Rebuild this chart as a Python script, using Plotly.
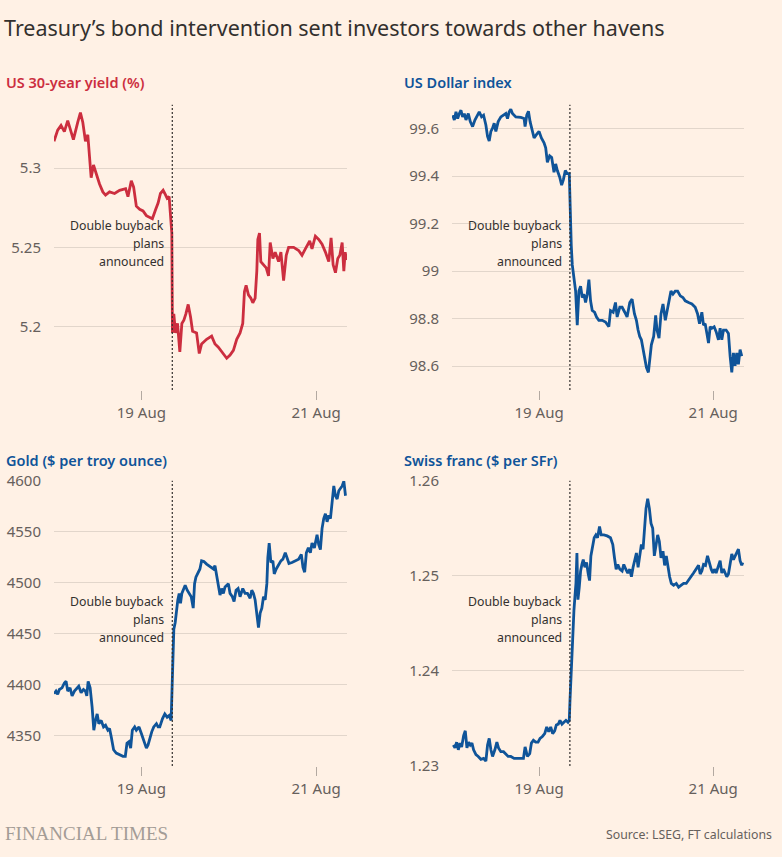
import pandas as pd
import plotly.graph_objects as go

START = pd.Timestamp("2025-08-18 00:00")
EVENT_HOURS = 32.5

# ---------------- data (hours since 18 Aug 00:00, values) ----------------
yield_hours = [0, 0.55, 1.01, 1.93, 2.85, 3.77, 4.69, 5.33, 6.53, 7.26, 7.91, 8.64, 9.29, 9.75,
               10.21, 10.85, 11.59, 12.51, 13.42, 14.16, 15.26, 16.64, 18.02, 19.68, 20.32, 21.24,
               21.88, 22.62, 23.54, 24.46, 25.38, 26.30, 27.03, 27.95, 28.60, 29.24, 29.98, 30.44,
               31.08, 31.63, 32.09, 32.37, 32.46, 32.55, 32.92, 33.38, 33.93, 34.57, 35.13, 35.68,
               36.23, 36.87, 37.52, 38.07, 39.17, 39.91, 40.55, 41.93, 43.31, 44.23, 45.15, 46.07,
               47.45, 48.37, 49.29, 50.20, 51.12, 51.86, 52.32, 52.78, 53.42, 54.07, 54.62, 55.26,
               55.72, 56.00, 56.46, 56.82, 57.56, 58.30, 58.94, 59.40, 60.14, 60.78, 61.70, 62.34,
               63.08, 63.81, 64.46, 65.84, 67.22, 68.14, 69.06, 70.25, 70.89, 71.81, 72.73, 73.65,
               74.57, 75.49, 76.13, 76.69, 77.33, 77.97, 78.53, 79.17, 79.63, 80.00, 80.36]
yield_values = [5.317, 5.321, 5.324, 5.327, 5.323, 5.330, 5.322, 5.318, 5.329, 5.335, 5.329, 5.317,
                5.321, 5.309, 5.294, 5.302, 5.296, 5.290, 5.285, 5.283, 5.285, 5.284, 5.286, 5.287,
                5.282, 5.292, 5.288, 5.276, 5.274, 5.273, 5.270, 5.269, 5.268, 5.274, 5.278, 5.284,
                5.286, 5.284, 5.281, 5.282, 5.270, 5.259, 5.224, 5.196, 5.208, 5.196, 5.202, 5.184,
                5.202, 5.204, 5.208, 5.214, 5.206, 5.197, 5.196, 5.183, 5.189, 5.192, 5.194, 5.189,
                5.187, 5.184, 5.180, 5.182, 5.185, 5.192, 5.196, 5.202, 5.222, 5.226, 5.220, 5.218,
                5.215, 5.218, 5.235, 5.255, 5.259, 5.241, 5.239, 5.237, 5.232, 5.253, 5.243, 5.247,
                5.241, 5.247, 5.229, 5.245, 5.250, 5.250, 5.248, 5.245, 5.249, 5.254, 5.249, 5.257,
                5.255, 5.252, 5.247, 5.241, 5.256, 5.239, 5.234, 5.243, 5.245, 5.253, 5.235, 5.247,
                5.242]

dollar_hours = [0.18, 0.64, 1.10, 1.56, 2.02, 2.47, 2.93, 3.39, 3.85, 4.49, 5.04, 5.68, 6.32, 7.05,
                7.51, 8.15, 8.70, 9.34, 9.80, 10.26, 10.72, 11.18, 11.63, 12.09, 12.73, 13.47, 14.20,
                14.84, 15.30, 15.76, 16.21, 16.67, 17.59, 18.96, 19.88, 20.15, 20.61, 21.07, 21.53,
                22.17, 22.63, 23.27, 24.00, 24.64, 25.37, 25.83, 26.29, 26.93, 27.48, 28.12, 28.58,
                29.04, 29.68, 30.23, 30.69, 31.24, 31.79, 32.33, 32.52, 32.70, 32.88, 33.16, 33.62,
                34.08, 34.53, 34.99, 35.45, 35.91, 36.37, 36.82, 37.28, 37.74, 38.20, 38.66, 39.30,
                39.85, 40.49, 41.41, 42.32, 43.24, 43.70, 44.43, 45.07, 45.53, 46.26, 46.90, 47.63,
                48.27, 49.01, 49.65, 50.29, 50.84, 51.30, 51.75, 52.21, 52.67, 53.13, 53.59, 54.14,
                54.50, 54.96, 55.60, 56.15, 56.52, 57.07, 57.62, 58.17, 58.81, 59.27, 59.82, 60.36,
                60.91, 61.55, 62.20, 62.93, 63.66, 64.30, 65.22, 66.14, 67.05, 67.69, 68.24, 68.88,
                69.34, 69.80, 70.26, 70.72, 71.17, 71.63, 72.27, 72.82, 73.46, 73.92, 74.38, 74.84,
                75.57, 76.21, 76.67, 77.13, 77.59, 78.04, 78.50, 78.96, 79.42, 79.88]
dollar_values = [99.656, 99.636, 99.670, 99.642, 99.663, 99.677, 99.649, 99.663, 99.636, 99.663,
                 99.629, 99.608, 99.636, 99.656, 99.670, 99.649, 99.656, 99.615, 99.567, 99.547,
                 99.588, 99.601, 99.622, 99.588, 99.629, 99.649, 99.656, 99.663, 99.642, 99.670,
                 99.681, 99.663, 99.649, 99.647, 99.642, 99.608, 99.656, 99.673, 99.629, 99.595,
                 99.560, 99.574, 99.588, 99.560, 99.540, 99.519, 99.458, 99.485, 99.478, 99.416,
                 99.451, 99.423, 99.396, 99.362, 99.384, 99.423, 99.410, 99.410, 99.300, 99.136,
                 99.108, 99.026, 98.971, 98.916, 98.773, 98.916, 98.937, 98.889, 98.903, 98.868,
                 98.903, 98.964, 98.875, 98.834, 98.827, 98.807, 98.793, 98.793, 98.786, 98.766,
                 98.834, 98.827, 98.868, 98.807, 98.848, 98.848, 98.827, 98.807, 98.868, 98.882,
                 98.821, 98.793, 98.752, 98.725, 98.711, 98.670, 98.642, 98.595, 98.574, 98.642,
                 98.690, 98.725, 98.814, 98.752, 98.718, 98.821, 98.862, 98.793, 98.834, 98.868,
                 98.916, 98.903, 98.916, 98.916, 98.896, 98.889, 98.875, 98.868, 98.862, 98.848,
                 98.821, 98.779, 98.827, 98.773, 98.779, 98.738, 98.697, 98.766, 98.760, 98.766,
                 98.745, 98.711, 98.760, 98.711, 98.752, 98.752, 98.738, 98.642, 98.574, 98.656,
                 98.601, 98.656, 98.608, 98.670, 98.642]

gold_hours = [0, 0.55, 1.01, 1.47, 2.21, 2.85, 3.31, 3.77, 4.41, 4.97, 5.61, 6.25, 6.80, 7.45, 8.09,
              8.64, 9.01, 9.38, 9.93, 10.48, 10.94, 11.40, 11.86, 12.32, 12.96, 13.61, 14.16, 14.80,
              15.26, 15.72, 16.37, 17.10, 18.02, 18.94, 19.59, 20.05, 20.60, 21.06, 21.52, 22.16,
              22.62, 23.36, 24.00, 24.64, 25.38, 25.84, 26.30, 26.85, 27.40, 28.14, 28.60, 29.06,
              29.79, 30.44, 31.08, 31.63, 32.18, 32.37, 32.55, 32.92, 33.29, 33.65, 34.02, 34.39,
              34.76, 35.13, 35.49, 36.04, 36.60, 37.15, 37.70, 38.25, 38.62, 38.99, 39.63, 40.09,
              40.55, 41.19, 41.93, 42.85, 43.77, 44.23, 44.69, 45.15, 45.61, 46.07, 46.53, 46.99,
              47.45, 47.91, 48.37, 49.01, 49.47, 50.02, 50.57, 51.12, 51.86, 52.50, 53.15, 53.88,
              54.34, 54.80, 55.26, 55.72, 56.18, 56.64, 57.10, 57.56, 58.02, 58.48, 58.75, 59.12,
              59.59, 60.14, 60.51, 61.06, 61.70, 62.34, 62.89, 63.54, 64.00, 64.55, 65.38, 66.30,
              67.22, 67.95, 68.41, 68.87, 69.33, 69.88, 70.43, 70.89, 71.54, 72.27, 72.73, 73.19,
              73.65, 74.11, 74.57, 75.03, 75.49, 75.95, 76.41, 76.87, 77.33, 77.79, 78.25, 78.71,
              79.17, 79.63, 80.09]
gold_values = [4390.9, 4393.5, 4390.3, 4395.1, 4396.7, 4401.5, 4403.1, 4393.5, 4396.7, 4388.7, 4393.5,
               4396.7, 4398.3, 4391.9, 4395.1, 4393.5, 4388.7, 4403.1, 4396.7, 4377.5, 4355.1, 4364.7,
               4371.1, 4361.5, 4364.7, 4358.3, 4359.9, 4355.1, 4356.7, 4348.7, 4335.9, 4332.7, 4331.1,
               4329.5, 4329.5, 4342.3, 4343.9, 4337.5, 4355.1, 4358.3, 4355.1, 4358.3, 4351.9, 4345.5,
               4337.5, 4340.7, 4347.1, 4353.5, 4358.3, 4361.5, 4358.3, 4358.3, 4366.3, 4371.1, 4367.9,
               4369.5, 4364.7, 4390.3, 4422.3, 4454.2, 4460.6, 4473.4, 4483.0, 4489.4, 4479.8, 4489.4,
               4492.6, 4497.4, 4492.6, 4489.4, 4486.2, 4475.0, 4499.0, 4505.4, 4510.2, 4513.4, 4521.4,
               4520.7, 4518.2, 4515.6, 4513.4, 4516.6, 4505.4, 4499.0, 4487.8, 4494.2, 4489.4, 4495.8,
               4497.4, 4499.0, 4489.4, 4486.2, 4481.4, 4492.6, 4494.2, 4486.2, 4494.2, 4489.4, 4489.4,
               4484.6, 4492.6, 4489.4, 4483.0, 4467.0, 4455.8, 4470.2, 4475.0, 4486.2, 4483.0, 4499.0,
               4524.6, 4538.9, 4519.8, 4521.4, 4508.6, 4513.4, 4518.2, 4521.4, 4523.0, 4529.3, 4524.6,
               4518.8, 4519.8, 4521.4, 4523.0, 4527.7, 4515.0, 4510.2, 4529.3, 4534.1, 4529.3, 4538.9,
               4534.1, 4546.9, 4537.3, 4532.5, 4553.3, 4562.9, 4567.7, 4559.7, 4566.1, 4562.9, 4578.9,
               4594.9, 4585.3, 4582.1, 4590.2, 4593.3, 4594.9, 4599.7, 4585.3]

franc_hours = [0.37, 0.82, 1.28, 1.74, 2.20, 2.66, 3.21, 3.66, 4.12, 4.58, 5.04, 5.50, 5.95, 6.60,
               7.24, 7.97, 8.70, 9.34, 9.80, 10.26, 10.72, 11.18, 11.82, 12.37, 12.82, 13.47, 14.20,
               14.84, 15.48, 16.21, 17.13, 18.50, 19.69, 20.15, 20.79, 21.43, 21.89, 22.44, 23.08,
               23.72, 24.27, 24.92, 25.56, 26.11, 26.66, 27.21, 27.75, 28.30, 28.76, 29.31, 29.77,
               30.32, 30.87, 31.42, 31.97, 32.33, 32.52, 32.79, 33.07, 33.34, 33.62, 33.89, 34.17,
               34.44, 34.72, 35.08, 35.45, 35.82, 36.18, 36.64, 37.10, 37.56, 37.92, 38.29, 38.75,
               39.20, 39.66, 40.12, 40.67, 41.13, 41.86, 42.78, 43.69, 44.33, 44.79, 45.25, 45.71,
               46.26, 46.90, 47.36, 47.91, 48.46, 49.01, 49.46, 49.92, 50.38, 50.84, 51.30, 51.75,
               52.21, 52.67, 53.13, 53.49, 53.95, 54.41, 54.87, 55.33, 55.78, 56.24, 56.70, 57.16,
               57.62, 58.17, 58.62, 59.08, 59.54, 60.00, 60.46, 61.10, 61.83, 62.47, 63.11, 63.85,
               64.58, 65.22, 65.86, 66.59, 67.33, 67.97, 68.43, 68.88, 69.34, 69.89, 70.44, 70.99,
               71.45, 71.91, 72.36, 72.82, 73.37, 73.92, 74.38, 74.84, 75.30, 75.75, 76.21, 76.67,
               77.13, 77.59, 78.04, 78.50, 78.96, 79.42, 79.88, 80.15]
franc_values = [1.2322, 1.2319, 1.2325, 1.2317, 1.2324, 1.2320, 1.2332, 1.2337, 1.2319, 1.2325,
                1.2322, 1.2324, 1.2317, 1.2312, 1.2310, 1.2307, 1.2308, 1.2305, 1.2322, 1.2329,
                1.2317, 1.2310, 1.2317, 1.2325, 1.2319, 1.2315, 1.2315, 1.2313, 1.2310, 1.2310,
                1.2308, 1.2308, 1.2308, 1.2320, 1.2310, 1.2313, 1.2324, 1.2327, 1.2325, 1.2325,
                1.2329, 1.2331, 1.2334, 1.2341, 1.2336, 1.2341, 1.2334, 1.2337, 1.2343, 1.2344,
                1.2348, 1.2344, 1.2346, 1.2348, 1.2346, 1.2348, 1.2368, 1.2396, 1.2420, 1.2444,
                1.2464, 1.2478, 1.2492, 1.2524, 1.2475, 1.2488, 1.2505, 1.2512, 1.2517, 1.2509,
                1.2514, 1.2502, 1.2495, 1.2521, 1.2531, 1.2540, 1.2543, 1.2540, 1.2552, 1.2543,
                1.2543, 1.2542, 1.2540, 1.2533, 1.2519, 1.2507, 1.2512, 1.2507, 1.2505, 1.2512,
                1.2507, 1.2503, 1.2507, 1.2499, 1.2509, 1.2516, 1.2524, 1.2509, 1.2523, 1.2533,
                1.2528, 1.2553, 1.2571, 1.2581, 1.2571, 1.2555, 1.2550, 1.2521, 1.2533, 1.2543,
                1.2536, 1.2519, 1.2526, 1.2511, 1.2521, 1.2509, 1.2499, 1.2492, 1.2490, 1.2492,
                1.2488, 1.2490, 1.2492, 1.2492, 1.2495, 1.2499, 1.2503, 1.2507, 1.2511, 1.2502,
                1.2505, 1.2512, 1.2511, 1.2521, 1.2512, 1.2507, 1.2503, 1.2507, 1.2503, 1.2511,
                1.2516, 1.2503, 1.2507, 1.2503, 1.2499, 1.2502, 1.2512, 1.2523, 1.2517, 1.2521,
                1.2524, 1.2528, 1.2516, 1.2511, 1.2514]

x_tick_dates = ["2025-08-19", "2025-08-21"]
x_tick_labels = ["19 Aug", "21 Aug"]

yield_ticks = [5.2, 5.25, 5.3]
yield_tick_labels = ["5.2", "5.25", "5.3"]
dollar_ticks = [98.6, 98.8, 99.0, 99.2, 99.4, 99.6]
dollar_tick_labels = ["98.6", "98.8", "99", "99.2", "99.4", "99.6"]
gold_ticks = [4350, 4400, 4450, 4500, 4550, 4600]
gold_tick_labels = ["4350", "4400", "4450", "4500", "4550", "4600"]
franc_ticks = [1.23, 1.24, 1.25, 1.26]
franc_tick_labels = ["1.23", "1.24", "1.25", "1.26"]

panel_titles = ["US 30-year yield (%)", "US Dollar index", "Gold ($ per troy ounce)", "Swiss franc ($ per SFr)"]
title_text = "Treasury\u2019s bond intervention sent investors towards other havens"
event_lines = ["Double buyback", "plans", "announced"]
source_text = "Source: LSEG, FT calculations"

# ---------------- styling ----------------
W, H = 782, 857
BG = "#fff1e5"
RED = "#cc2e3f"
BLUE = "#0f5499"
GRID = "#e2d6cb"
TEXT = "#33302e"
TICKTEXT = "#66605c"
FONT = "Noto Sans"


def to_time(hours):
    return START + pd.to_timedelta(hours, unit="h")


def px_x(p):
    return p / W


def px_y(p):
    return 1 - p / H


x_domains = [[px_x(54), px_x(347)], [px_x(452), px_x(744)]]
y_domains = [[px_y(388), px_y(96)], [px_y(773), px_y(481)]]
PLOT_H = 292.0

series = [
    (yield_hours, yield_values, RED, [5.16, 5.34], yield_ticks, yield_tick_labels),
    (dollar_hours, dollar_values, BLUE, [98.5, 99.7], dollar_ticks, dollar_tick_labels),
    (gold_hours, gold_values, BLUE, [4320, 4600], gold_ticks, gold_tick_labels),
    (franc_hours, franc_values, BLUE, [1.23, 1.26], franc_ticks, franc_tick_labels),
]

fig = go.Figure()
event_time = START + pd.Timedelta(hours=EVENT_HOURS)
x_range = [START, START + pd.Timedelta(hours=80.5)]
layout = {}
annotations = []
shapes = []

for i, (hrs, vals, color, yr, yt, ytl) in enumerate(series):
    n = i + 1
    xa = "x" if n == 1 else f"x{n}"
    ya = "y" if n == 1 else f"y{n}"
    col = i % 2
    row = i // 2
    fig.add_trace(go.Scatter(x=to_time(hrs), y=vals, mode="lines",
                             line=dict(color=color, width=2.8), xaxis=xa, yaxis=ya,
                             hoverinfo="skip", showlegend=False))
    layout[f"xaxis{'' if n == 1 else n}"] = dict(
        domain=x_domains[col], anchor=ya, type="date", range=x_range,
        tickvals=x_tick_dates, ticktext=x_tick_labels, ticks="outside", ticklen=9,
        tickcolor="#b3a9a1", tickwidth=1, showgrid=False, zeroline=False, showline=False,
        tickfont=dict(family=FONT, size=15, color=TICKTEXT), fixedrange=True)
    layout[f"yaxis{'' if n == 1 else n}"] = dict(
        domain=y_domains[row], anchor=xa, range=yr, tickvals=yt, ticktext=ytl,
        showgrid=True, gridcolor=GRID, gridwidth=1, zeroline=False, showline=False,
        ticks="", ticklabelstandoff=12,
        tickfont=dict(family=FONT, size=15, color=TICKTEXT), fixedrange=True)
    shapes.append(dict(type="line", xref=xa, yref=f"{ya} domain", x0=event_time, x1=event_time,
                       y0=0, y1=1, layer="above",
                       line=dict(color=TEXT, width=1.2, dash="2px,2px")))
    for k, line_text in enumerate(event_lines):
        annotations.append(dict(xref=xa, yref=f"{ya} domain", x=event_time,
                                y=0.514 + (1 - k) * 18.5 / PLOT_H, xanchor="right",
                                yanchor="middle", xshift=-6, align="right", showarrow=False,
                                text=line_text, font=dict(family=FONT, size=12.3, color=TEXT)))
    title_y = 73 if row == 0 else 460
    title_x = 4 if col == 0 else 402
    annotations.append(dict(xref="paper", yref="paper", x=px_x(title_x), y=px_y(title_y),
                            xanchor="left", yanchor="middle", showarrow=False, text=panel_titles[i],
                            font=dict(family=FONT, size=14.5, color=color, weight=600)))

annotations.append(dict(xref="paper", yref="paper", x=px_x(2), y=px_y(17), xanchor="left",
                        yanchor="middle", showarrow=False, text=title_text,
                        font=dict(family=FONT, size=21.5, color=TEXT)))
annotations.append(dict(xref="paper", yref="paper", x=px_x(3), y=px_y(842), xanchor="left",
                        yanchor="middle", showarrow=False, text="FINANCIAL TIMES",
                        font=dict(family="Liberation Serif", size=19, color="#a39c96")))
annotations.append(dict(xref="paper", yref="paper", x=px_x(774), y=px_y(843), xanchor="right",
                        yanchor="middle", showarrow=False, text=source_text,
                        font=dict(family=FONT, size=12.3, color=TICKTEXT)))

fig.update_layout(width=W, height=H, margin=dict(l=0, r=0, t=0, b=0), paper_bgcolor=BG,
                  plot_bgcolor=BG, showlegend=False, annotations=annotations, shapes=shapes,
                  **layout)

PAGE_FIX = (
    "var d=document.getElementById('{plot_id}');"
    "document.documentElement.style.cssText='margin:0;padding:0;overflow:hidden;height:857px;background:#fff1e5';"
    "document.body.style.cssText='margin:0;padding:0;overflow:hidden;height:857px;background:#fff1e5';"
    "if(d){d.style.position='fixed';d.style.top='0px';d.style.left='0px';}"
)

fig.write_html("out.html", config={"displayModeBar": False}, post_script=PAGE_FIX)
